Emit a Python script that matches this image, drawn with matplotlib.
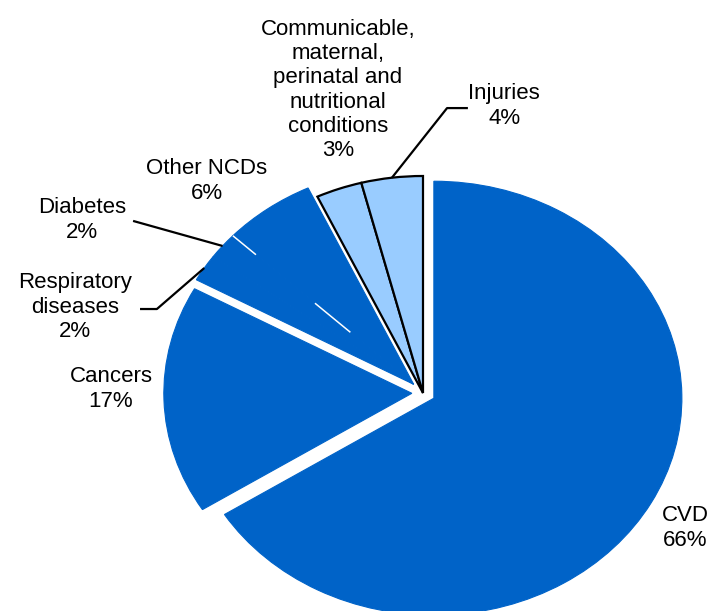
import numpy as np
import matplotlib.pyplot as plt

plt.rcParams['font.family'] = ['Liberation Sans', 'DejaVu Sans']

# share of deaths by cause
causes = ["CVD", "Cancers", "Respiratory\ndiseases", "Diabetes", "Other NCDs",
          "Communicable,\nmaternal,\nperinatal and\nnutritional\nconditions", "Injuries"]
shares = [66, 17, 2, 2, 6, 3, 4]

dark_blue = "#0063c8"
light_blue = "#99ccff"
colors = [dark_blue] * 5 + [light_blue] * 2
explode = [0.05, 0.045, 0, 0, 0, 0, 0]

fig = plt.figure(figsize=(7.1, 6.11), dpi=100)
ax = fig.add_axes([0, 0, 1, 1])

wedges, _ = ax.pie(shares, explode=explode, colors=colors, startangle=90,
                   counterclock=False, radius=1,
                   wedgeprops=dict(linewidth=0.8, edgecolor=dark_blue))

# the NCD slices (respiratory, diabetes, other) are pulled out as one block
ncd = wedges[2:5]
t_lo = min(w.theta1 for w in ncd)
t_hi = max(w.theta2 for w in ncd)
t_mid = np.radians((t_lo + t_hi) / 2)
for w in ncd:
    cx, cy = w.center
    w.set_center((cx + 0.055 * np.cos(t_mid), cy + 0.055 * np.sin(t_mid)))

# outlined light-blue slices
for w in wedges[5:]:
    w.set_edgecolor("black")
    w.set_linewidth(1.6)
    w.set_joinstyle("miter")
    w.set_zorder(3)

# broken white divider inside the NCD block
cx, cy = wedges[3].center
a = np.radians(wedges[3].theta1)
rr = np.array([0.35, 1.0])
ax.plot(cx + rr * np.cos(a), cy + rr * np.sin(a), color="white", lw=1.1,
        dashes=(30, 50), solid_capstyle="butt", zorder=2)

# stretched, cropped view of the pie
ax.set_aspect("auto")
ax.set_xlim(-423 / 248, 287 / 248)
ax.set_ylim(-218 / 217, 393 / 217)
ax.axis("off")


def edge_point(w):
    m = np.radians((w.theta1 + w.theta2) / 2)
    return w.center[0] + w.r * np.cos(m), w.center[1] + w.r * np.sin(m)


label_pos = {
    0: (1.056, -0.622),
    1: (-1.258, 0.018),
    2: (-1.403, 0.396),
    3: (-1.375, 0.797),
    4: (-0.871, 0.977),
    5: (-0.343, 1.396),
    6: (0.327, 1.323),
}
for i, (x, y) in label_pos.items():
    ax.text(x, y, f"{causes[i]}\n{shares[i]}%", ha="center", va="center",
            fontsize=16, linespacing=1.2, color="black")

# leader lines
lead = dict(color="black", lw=1.6, solid_capstyle="butt", zorder=4)
px, py = edge_point(wedges[6])
ax.plot([0.181, 0.097, px], [1.313, 1.313, py], **lead)
px, py = edge_point(wedges[3])
ax.plot([-1.169, px], [0.793, py], **lead)
px, py = edge_point(wedges[2])
ax.plot([-1.141, -1.073, px], [0.387, 0.387, py], **lead)

fig.savefig("out.png", dpi=100)
